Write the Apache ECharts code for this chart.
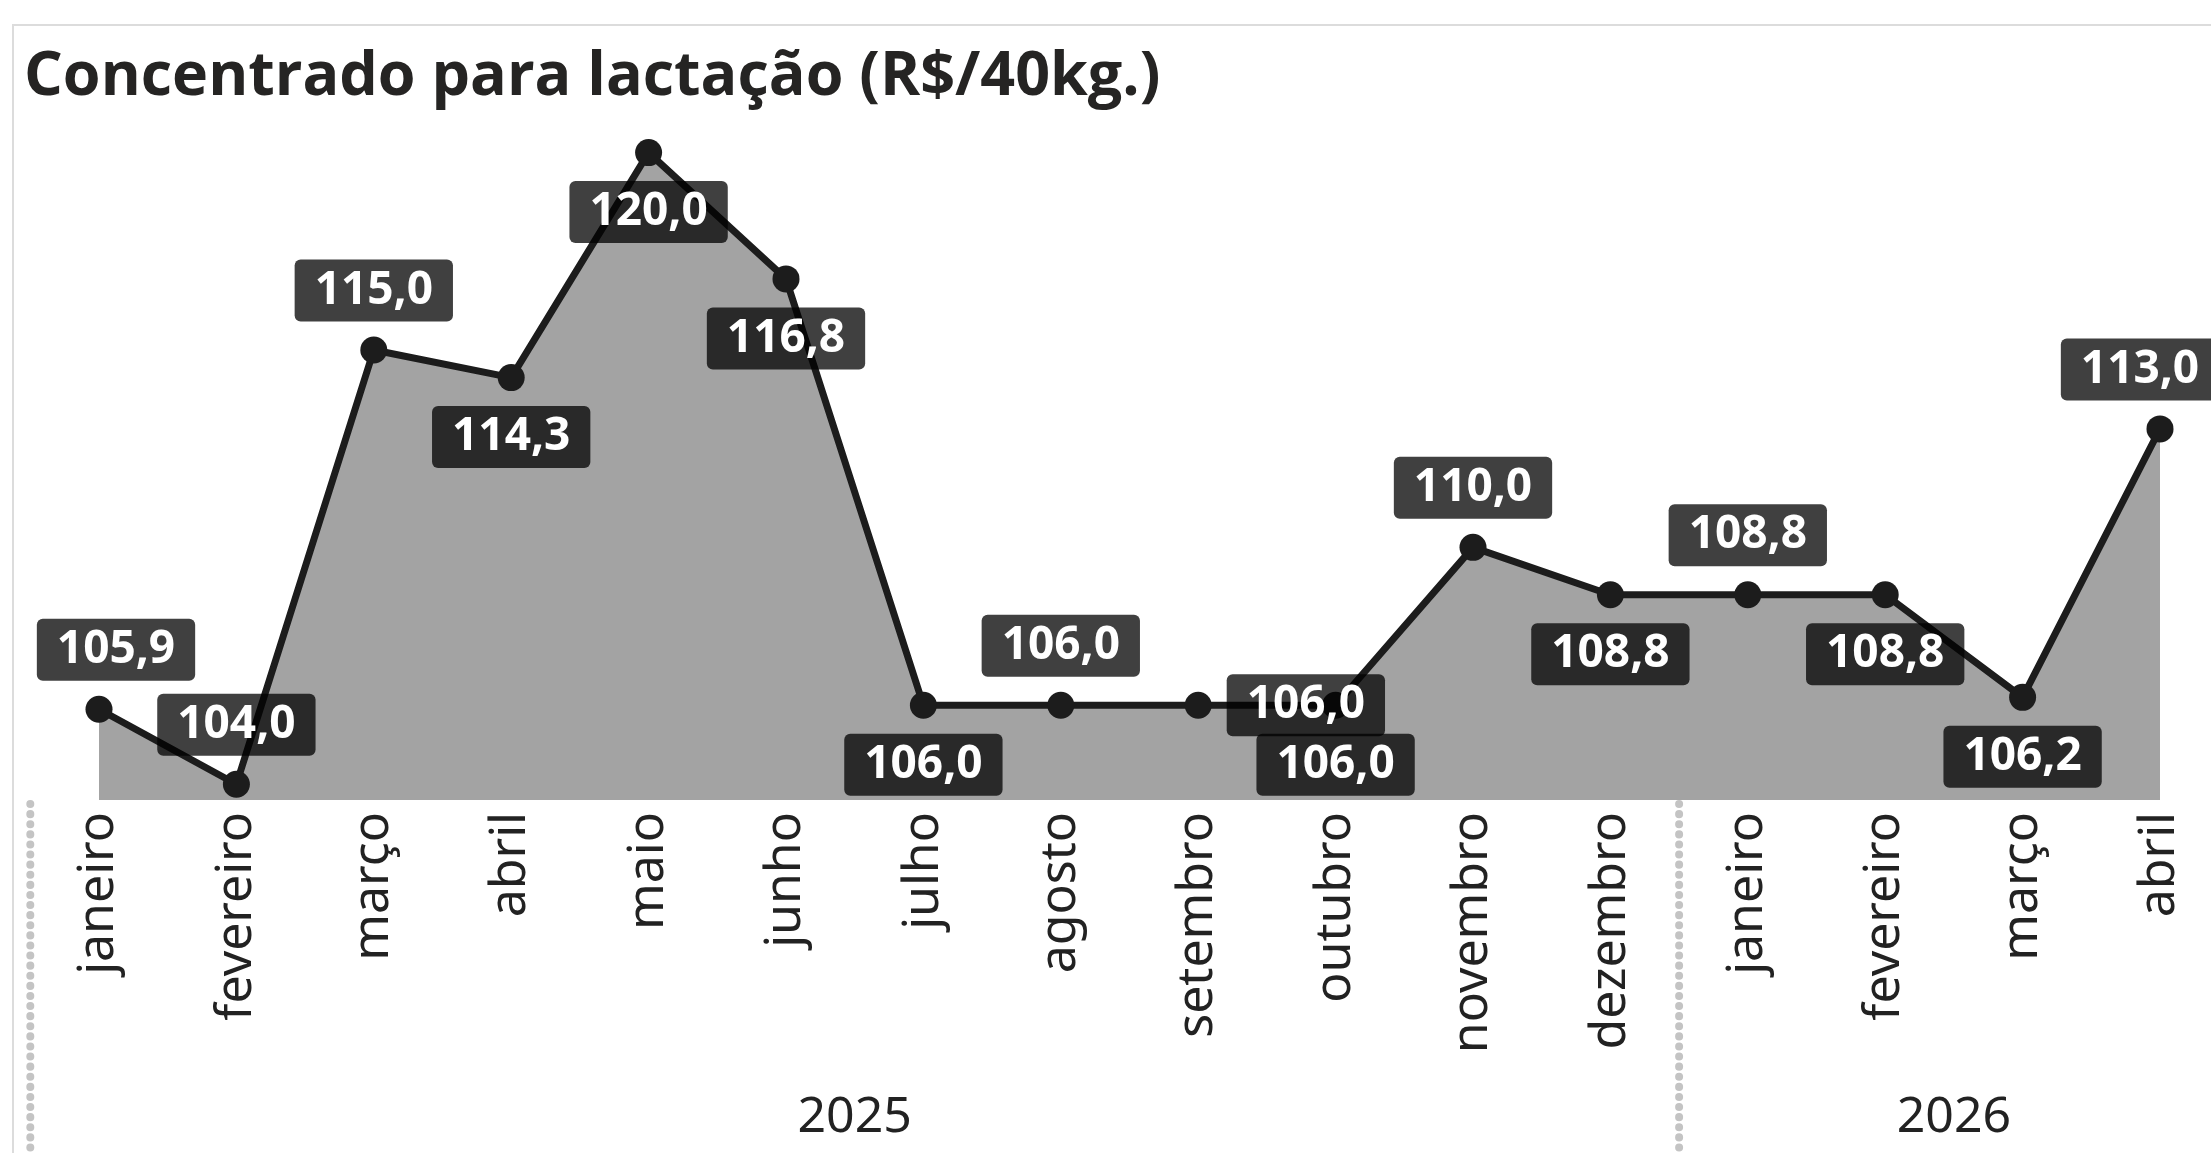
<!DOCTYPE html>
<html>
<head>
<meta charset="utf-8">
<script src="https://cdn.jsdelivr.net/npm/echarts@6/dist/echarts.min.js"></script>
<style>
  html, body { margin: 0; padding: 0; background: #fff; }
  #chart { width: 2211px; height: 1153px; }
</style>
</head>
<body>
<div id="chart"></div>
<script>
var months = ['janeiro', 'fevereiro', 'março', 'abril', 'maio', 'junho', 'julho', 'agosto',
  'setembro', 'outubro', 'novembro', 'dezembro', 'janeiro', 'fevereiro', 'março', 'abril'];
var years = ['2025', '2026'];
var monthsPerYear = [12, 4];
var prices = [105.9, 104.0, 115.0, 114.3, 120.0, 116.8, 106.0, 106.0,
  106.0, 106.0, 110.0, 108.8, 108.8, 108.8, 106.2, 113.0];

// onde fica cada rótulo (igual ao visual original)
var labelPlacement = ['top', 'top', 'top', 'bottom', 'bottom', 'bottom', 'bottom', 'top',
  'right', 'bottom', 'top', 'bottom', 'top', 'bottom', 'bottom', 'top'];
var labelShift = { 0: [17, 0], 15: [-20, 0] };

var yMin = 103.6;
var yMax = 120.8;

// centro e início de cada ano no eixo
var yearCenters = [];
var yearStarts = [];
var acc = 0;
monthsPerYear.forEach(function (n) {
  yearStarts.push(acc);
  yearCenters.push(acc + (n - 1) / 2);
  acc += n;
});

function fmt(v) {
  return v.toFixed(1).replace('.', ',');
}

function initChart() {
  var chart = echarts.init(document.getElementById('chart'));
  var option = {
    backgroundColor: '#fff',
    animation: false,
    title: {
      text: 'Concentrado para lactação (R$/40kg.)',
      left: 19,
      top: 42,
      textStyle: {
        fontFamily: 'Open Sans',
        fontWeight: 'bold',
        fontSize: 61,
        color: '#252423'
      }
    },
    grid: {
      left: 99,
      right: 51,
      top: 121,
      bottom: 353,
      containLabel: false,
      outerBoundsMode: 'none'
    },
    xAxis: [
      {
        type: 'category',
        data: months,
        boundaryGap: false,
        axisLine: { show: false },
        axisTick: { show: false },
        splitLine: { show: false },
        axisLabel: {
          interval: 0,
          rotate: 90,
          margin: 12,
          fontFamily: 'Noto Sans',
          fontSize: 50,
          color: '#222'
        }
      },
      {
        type: 'value',
        position: 'bottom',
        min: 0,
        max: months.length - 1,
        axisLine: { show: false },
        axisTick: { show: false },
        splitLine: { show: false },
        axisLabel: {
          customValues: yearCenters,
          margin: 293,
          fontFamily: 'Noto Sans',
          fontSize: 50,
          color: '#222',
          formatter: function (v) {
            var i = yearCenters.indexOf(v);
            return i >= 0 ? years[i] : '';
          }
        }
      }
    ],
    yAxis: {
      type: 'value',
      min: yMin,
      max: yMax,
      show: false
    },
    series: [
      {
        type: 'line',
        data: prices.map(function (v, i) {
          return {
            value: v,
            label: { position: labelPlacement[i], offset: labelShift[i] || [0, 0] }
          };
        }),
        symbol: 'circle',
        symbolSize: 27,
        itemStyle: { color: '#1c1c1c' },
        lineStyle: { color: '#1c1c1c', width: 7 },
        areaStyle: { color: '#a3a3a3', opacity: 1 },
        label: {
          show: true,
          distance: 15,
          formatter: function (p) { return fmt(p.value); },
          fontFamily: 'Open Sans',
          fontWeight: 'bold',
          fontSize: 46,
          lineHeight: 50,
          color: '#fff',
          backgroundColor: 'rgba(0,0,0,0.75)',
          borderRadius: 6,
          padding: [6, 20]
        }
      }
    ]
  };
  chart.setOption(option);

  // separadores dos anos e moldura
  var yBottom = chart.convertToPixel({ yAxisIndex: 0 }, yMin);
  var graphics = [
    {
      type: 'rect',
      shape: { x: 13, y: 25, width: 2260, height: 1200 },
      style: { fill: 'none', stroke: '#dcdcdc', lineWidth: 2 },
      silent: true
    }
  ];
  yearStarts.forEach(function (s) {
    var x = chart.convertToPixel({ xAxisIndex: 1 }, s - 0.5);
    graphics.push({
      type: 'line',
      shape: { x1: x, y1: yBottom + 4, x2: x, y2: 1153 },
      style: { stroke: '#c4c4c4', lineWidth: 8, lineDash: [0.1, 10], lineCap: 'round' },
      silent: true
    });
  });
  chart.setOption({ graphic: graphics });
}

document.addEventListener('DOMContentLoaded', function () {
  initChart();
});
</script>
</body>
</html>
